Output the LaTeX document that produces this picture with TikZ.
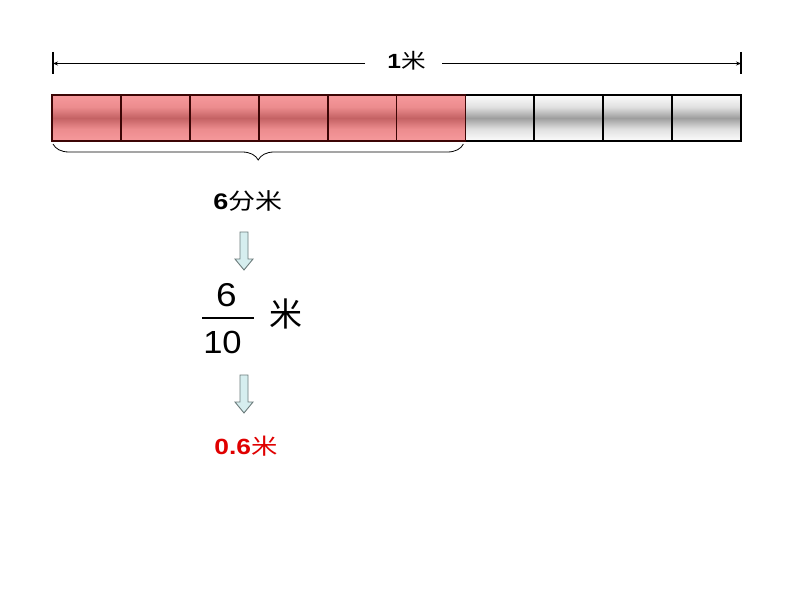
\documentclass[tikz,border=0pt]{standalone}
\usepackage{fontspec}
\setmainfont{Liberation Sans}
\newfontfamily\cjk{Noto Sans CJK SC}
\usetikzlibrary{decorations.pathreplacing,arrows.meta,calc}
\definecolor{redtop}{HTML}{F7999C}
\definecolor{redsub}{HTML}{EC8C8E}
\definecolor{redmid}{HTML}{C46264}
\definecolor{redline}{HTML}{3C0505}
\definecolor{graytop}{HTML}{FCFCFC}
\definecolor{graysub}{HTML}{E0E0E0}
\definecolor{graymid}{HTML}{9E9E9E}
\definecolor{arrowfill}{HTML}{D6EEEF}
\definecolor{arrowline}{HTML}{6B7B7B}
\definecolor{ansred}{HTML}{E00000}
\pgfdeclareverticalshading{redshade}{100bp}{color(0bp)=(redtop); color(25bp)=(redtop); color(38bp)=(redsub); color(50bp)=(redmid); color(62bp)=(redsub); color(75bp)=(redtop); color(100bp)=(redtop)}
\pgfdeclareverticalshading{grayshade}{100bp}{color(0bp)=(graytop); color(25bp)=(graytop); color(38bp)=(graysub); color(50bp)=(graymid); color(62bp)=(graysub); color(75bp)=(graytop); color(100bp)=(graytop)}
\begin{document}
\begin{tikzpicture}[x=1pt,y=-1pt,
  cellbase/.style={minimum width=68.9pt,minimum height=46pt,inner sep=0pt,outer sep=0pt},
  redcell/.style={cellbase,shading=redshade},
  graycell/.style={cellbase,shading=grayshade},
  cellframe/.style={line width=1.8pt},
  blockarrow/.style={draw=arrowline,fill=arrowfill,line width=0.9pt,line join=miter},
  dimline/.style={line width=0.8pt,-{Stealth[length=5pt,width=4pt]}},
  tick/.style={line width=1.6pt},
  lbl/.style={inner sep=0pt,anchor=base}
]
\useasboundingbox (0,0) rectangle (794,596);
\fill[white] (0,0) rectangle (794,596);

% dimension line
\coordinate (lt1) at (53,52); \coordinate (lt2) at (53,74);
\coordinate (rt1) at (741,52); \coordinate (rt2) at (741,74);
\coordinate (lend) at (53,63.5); \coordinate (rend) at (741,63.5);
\draw[tick] (lt1) -- (lt2);
\draw[tick] (rt1) -- (rt2);
\node[lbl] (one) at (406.5,69) {\scalebox{1.2}[1]{\fontsize{20.5}{20.5}\selectfont\bfseries 1\cjk\mdseries 米}};
\coordinate (gapl) at (365,63.5); \coordinate (gapr) at (442,63.5);
\draw[dimline] (gapl) -- (lend);
\draw[dimline] (gapr) -- (rend);

% cells: shading first, then borders
\foreach \i in {1,...,6}
  \node[redcell] (c\i) at ({52+68.9*(\i-0.5)},118) {};
\foreach \i in {7,...,10}
  \node[graycell] (c\i) at ({52+68.9*(\i-0.5)},118) {};
\foreach \i in {7,...,10}
  \draw[cellframe,black] (c\i.south west) rectangle (c\i.north east);
\foreach \i in {1,...,6}
  \draw[cellframe,redline] (c\i.south west) rectangle (c\i.north east);

% brace
\draw[line width=0.8pt,decorate,decoration={brace,mirror,amplitude=16pt}]
  ($(c1.south west)+(1,3)$) -- ($(c6.south east)+(-2,3)$);

% 6 dm
\node[lbl] (dm) at (248,209) {\scalebox{1.2}[1]{\fontsize{22.5}{22.5}\selectfont\bfseries 6\cjk\mdseries 分米}};

% arrow 1
\draw[blockarrow,shift={(244,232)}] (-4,0) -- (4,0) -- (4,27) -- (9,27) -- (0,38) -- (-9,27) -- (-4,27) -- cycle;

% fraction
\node[lbl] (num) at (226.5,306) {\scalebox{1.12}[1]{\fontsize{33}{33}\selectfont 6}};
\node[lbl] (den) at (222.5,353) {\scalebox{1.08}[1]{\fontsize{32}{32}\selectfont 10}};
\coordinate (fl) at (202,318); \coordinate (fr) at (254,318);
\draw[line width=1.3pt] (fl) -- (fr);
\node[inner sep=0pt] (mi) at (286,314) {\fontsize{33}{33}\selectfont\cjk 米};

% arrow 2
\draw[blockarrow,shift={(244,375)}] (-4,0) -- (4,0) -- (4,27) -- (9,27) -- (0,38) -- (-9,27) -- (-4,27) -- cycle;

% 0.6 m
\node[lbl,text=ansred] (ans) at (246,454) {\scalebox{1.2}[1]{\fontsize{22}{22}\selectfont\bfseries 0.6\cjk\mdseries 米}};
\end{tikzpicture}
\end{document}
